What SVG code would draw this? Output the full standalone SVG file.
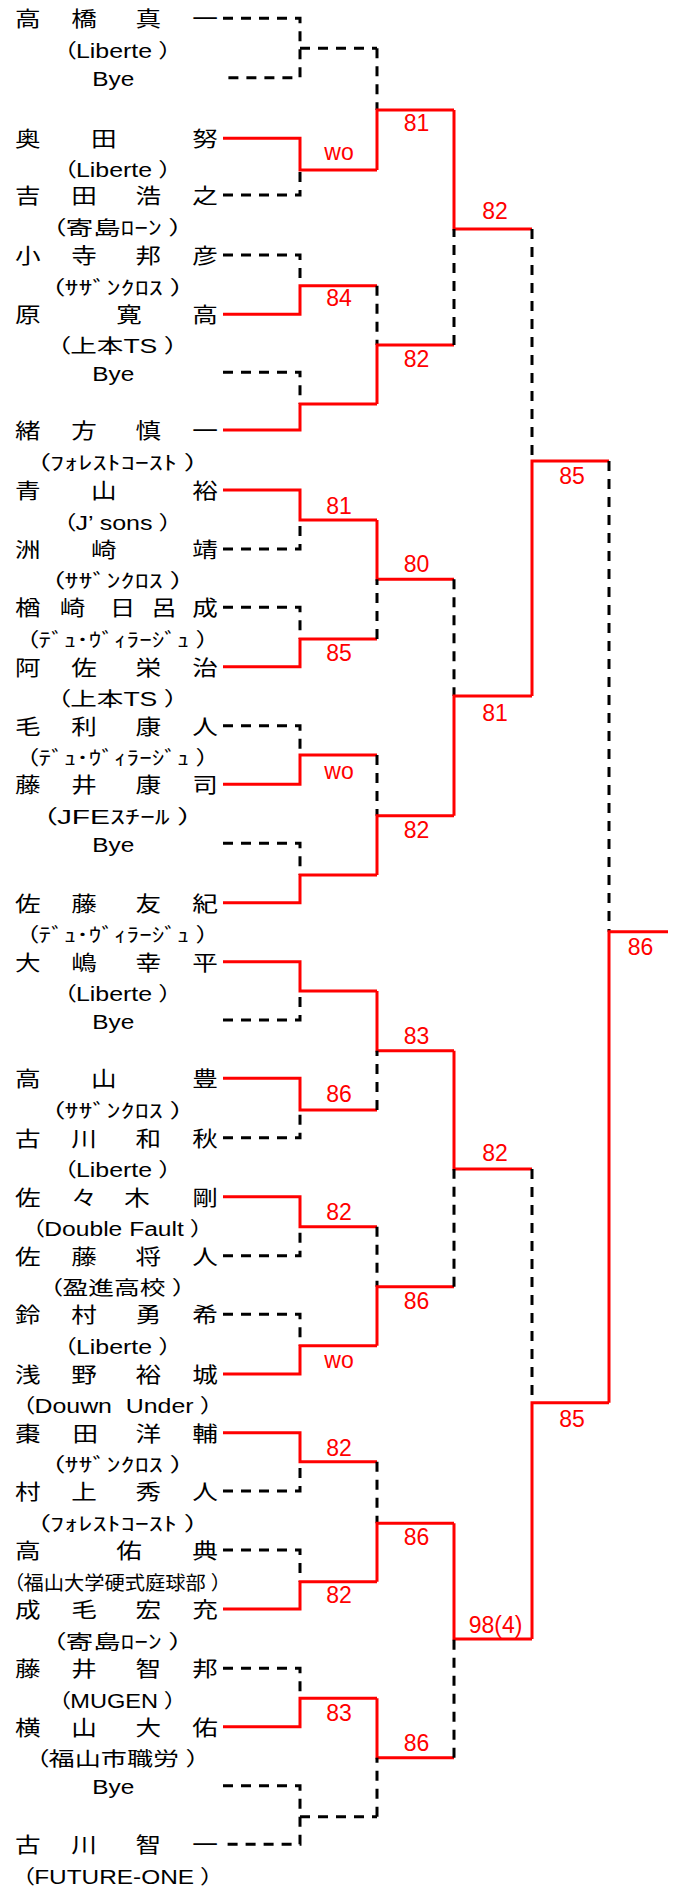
<svg xmlns="http://www.w3.org/2000/svg" width="680" height="1887" viewBox="0 0 680 1887">
<style>
.r{fill:none;stroke:#ff0000;stroke-width:3}
.d{fill:none;stroke:#000;stroke-width:3;stroke-dasharray:10 8}
.nm{font-family:"Noto Sans CJK JP","Noto Sans CJK SC",sans-serif;font-size:21px;fill:#000;text-anchor:middle}
.tm{font-family:"Liberation Sans","Noto Sans CJK JP",sans-serif;font-size:19.5px;fill:#000;text-anchor:middle;font-feature-settings:"palt" 1}
.by{font-family:"Liberation Sans",sans-serif;font-size:19.5px;fill:#000;text-anchor:middle}
.sc{font-family:"Liberation Sans",sans-serif;font-size:23px;fill:#ff0000;text-anchor:middle}
</style>
<rect width="680" height="1887" fill="#fff"/>

<g id="connectors">
<path class="d" d="M223 18.3H300V77.7H223"/>
<path class="d" d="M300 48.3H377"/>
<path class="d" d="M223 195H300V170"/>
<path class="r" d="M223 138.3H300V170H377"/>
<path class="d" d="M223 255H300V285.7"/>
<path class="r" d="M223 314.3H300V285.7H377"/>
<path class="d" d="M223 372.3H300V404"/>
<path class="r" d="M223 430H300V404H377"/>
<path class="d" d="M223 549H300V520"/>
<path class="r" d="M223 490H300V520H377"/>
<path class="d" d="M223 607.3H300V639"/>
<path class="r" d="M223 666.7H300V639H377"/>
<path class="d" d="M223 725.7H300V755"/>
<path class="r" d="M223 784.3H300V755H377"/>
<path class="d" d="M223 843.3H300V875"/>
<path class="r" d="M223 902.7H300V875H377"/>
<path class="d" d="M223 1020H300V991"/>
<path class="r" d="M223 961.7H300V991H377"/>
<path class="d" d="M223 1137.7H300V1110"/>
<path class="r" d="M223 1078.3H300V1110H377"/>
<path class="d" d="M223 1255.7H300V1226.7"/>
<path class="r" d="M223 1196.7H300V1226.7H377"/>
<path class="d" d="M223 1314.3H300V1345.7"/>
<path class="r" d="M223 1374H300V1345.7H377"/>
<path class="d" d="M223 1491H300V1461.7"/>
<path class="r" d="M223 1432.7H300V1461.7H377"/>
<path class="d" d="M223 1550H300V1581.7"/>
<path class="r" d="M223 1609H300V1581.7H377"/>
<path class="d" d="M223 1668.3H300V1698.3"/>
<path class="r" d="M223 1726.7H300V1698.3H377"/>
<path class="d" d="M223 1785.7H300V1844.3H223"/>
<path class="d" d="M300 1816.7H377"/>
<path class="d" d="M377 48.3V110"/>
<path class="r" d="M377 170V110H454"/>
<path class="d" d="M377 285.7V345"/>
<path class="r" d="M377 404V345H454"/>
<path class="r" d="M377 520V579.3H454"/>
<path class="d" d="M377 639V579.3"/>
<path class="d" d="M377 755V815.7"/>
<path class="r" d="M377 875V815.7H454"/>
<path class="r" d="M377 991V1050.7H454"/>
<path class="d" d="M377 1110V1050.7"/>
<path class="d" d="M377 1226.7V1286.7"/>
<path class="r" d="M377 1345.7V1286.7H454"/>
<path class="d" d="M377 1461.7V1523.3"/>
<path class="r" d="M377 1581.7V1523.3H454"/>
<path class="r" d="M377 1698.3V1757.7H454"/>
<path class="d" d="M377 1816.7V1757.7"/>
<path class="r" d="M454 110V229H532"/>
<path class="d" d="M454 345V229"/>
<path class="d" d="M454 579.3V696"/>
<path class="r" d="M454 815.7V696H532"/>
<path class="r" d="M454 1050.7V1169H532"/>
<path class="d" d="M454 1286.7V1169"/>
<path class="r" d="M454 1523.3V1639H532"/>
<path class="d" d="M454 1757.7V1639"/>
<path class="d" d="M532 229V461"/>
<path class="r" d="M532 696V461H609"/>
<path class="d" d="M532 1169V1402.7"/>
<path class="r" d="M532 1639V1402.7H609"/>
<path class="d" d="M609 461V931.7"/>
<path class="r" d="M609 1402.7V931.7H668"/>
</g>

<g id="scores">
<text class="sc" x="339" y="160">wo</text>
<text class="sc" x="339" y="306.2">84</text>
<text class="sc" x="339" y="514.2">81</text>
<text class="sc" x="339" y="660.9">85</text>
<text class="sc" x="339" y="779">wo</text>
<text class="sc" x="339" y="1102.2">86</text>
<text class="sc" x="339" y="1219.9">82</text>
<text class="sc" x="339" y="1367.7">wo</text>
<text class="sc" x="339" y="1456.2">82</text>
<text class="sc" x="339" y="1603.2">82</text>
<text class="sc" x="339" y="1721.2">83</text>
<text class="sc" x="416.5" y="131.2">81</text>
<text class="sc" x="416.5" y="366.5">82</text>
<text class="sc" x="416.5" y="571.5">80</text>
<text class="sc" x="416.5" y="837.5">82</text>
<text class="sc" x="416.5" y="1044.2">83</text>
<text class="sc" x="416.5" y="1308.9">86</text>
<text class="sc" x="416.5" y="1544.9">86</text>
<text class="sc" x="416.5" y="1750.5">86</text>
<text class="sc" x="495" y="218.9">82</text>
<text class="sc" x="495" y="720.5">81</text>
<text class="sc" x="495" y="1160.9">82</text>
<text class="sc" x="495.5" y="1633.2">98(4)</text>
<text class="sc" x="572" y="484">85</text>
<text class="sc" x="572" y="1426.5">85</text>
<text class="sc" x="640.5" y="955">86</text>
</g>

<g id="p01"><text class="nm" transform="scale(1.22,1)" y="26.3"><tspan x="22.8">高</tspan><tspan x="69">橋</tspan><tspan x="121.6">真</tspan><tspan x="168">一</tspan></text><text class="tm" x="117.5" y="58" textLength="108" lengthAdjust="spacingAndGlyphs">（Liberte ）</text></g>
<g id="p02"><text class="by" x="113.3" y="86.2" textLength="42" lengthAdjust="spacingAndGlyphs">Bye</text></g>
<g id="p03"><text class="nm" transform="scale(1.22,1)" y="146.3"><tspan x="22.8">奥</tspan><tspan x="85.2">田</tspan><tspan x="168">努</tspan></text><text class="tm" x="117.5" y="176.7" textLength="108" lengthAdjust="spacingAndGlyphs">（Liberte ）</text></g>
<g id="p04"><text class="nm" transform="scale(1.22,1)" y="203"><tspan x="22.8">吉</tspan><tspan x="69">田</tspan><tspan x="121.6">浩</tspan><tspan x="168">之</tspan></text><text class="tm" x="117.5" y="235" textLength="131" lengthAdjust="spacingAndGlyphs">（寄島ﾛｰﾝ ）</text></g>
<g id="p05"><text class="nm" transform="scale(1.22,1)" y="263"><tspan x="22.8">小</tspan><tspan x="69">寺</tspan><tspan x="121.6">邦</tspan><tspan x="168">彦</tspan></text><text class="tm" x="117.5" y="294.7" textLength="134" lengthAdjust="spacingAndGlyphs">（ｻｻﾞﾝｸﾛｽ ）</text></g>
<g id="p06"><text class="nm" transform="scale(1.22,1)" y="322.3"><tspan x="22.8">原</tspan><tspan x="105.7">寛</tspan><tspan x="168">高</tspan></text><text class="tm" x="117.5" y="353.3" textLength="121" lengthAdjust="spacingAndGlyphs">（上本TS ）</text></g>
<g id="p07"><text class="by" x="113.3" y="380.8" textLength="42" lengthAdjust="spacingAndGlyphs">Bye</text></g>
<g id="p08"><text class="nm" transform="scale(1.22,1)" y="438"><tspan x="22.8">緒</tspan><tspan x="69">方</tspan><tspan x="121.6">慎</tspan><tspan x="168">一</tspan></text><text class="tm" x="117.5" y="470" textLength="163" lengthAdjust="spacingAndGlyphs">（ﾌｫﾚｽﾄｺｰｽﾄ ）</text></g>
<g id="p09"><text class="nm" transform="scale(1.22,1)" y="498"><tspan x="22.8">青</tspan><tspan x="85.2">山</tspan><tspan x="168">裕</tspan></text><text class="tm" x="117.5" y="529.5" textLength="109" lengthAdjust="spacingAndGlyphs">（J’ sons ）</text></g>
<g id="p10"><text class="nm" transform="scale(1.22,1)" y="557"><tspan x="22.8">洲</tspan><tspan x="85.2">崎</tspan><tspan x="168">靖</tspan></text><text class="tm" x="117.5" y="588.2" textLength="134" lengthAdjust="spacingAndGlyphs">（ｻｻﾞﾝｸﾛｽ ）</text></g>
<g id="p11"><text class="nm" transform="scale(1.22,1)" y="615.3"><tspan x="22.8">楢</tspan><tspan x="59.4">崎</tspan><tspan x="100.4">日</tspan><tspan x="134.4">呂</tspan><tspan x="168">成</tspan></text><text class="tm" x="117.5" y="647" textLength="183" lengthAdjust="spacingAndGlyphs">（ﾃﾞｭ･ｳﾞｨﾗｰｼﾞｭ ）</text></g>
<g id="p12"><text class="nm" transform="scale(1.22,1)" y="674.7"><tspan x="22.8">阿</tspan><tspan x="69">佐</tspan><tspan x="121.6">栄</tspan><tspan x="168">治</tspan></text><text class="tm" x="117.5" y="706.2" textLength="121" lengthAdjust="spacingAndGlyphs">（上本TS ）</text></g>
<g id="p13"><text class="nm" transform="scale(1.22,1)" y="733.7"><tspan x="22.8">毛</tspan><tspan x="69">利</tspan><tspan x="121.6">康</tspan><tspan x="168">人</tspan></text><text class="tm" x="117.5" y="765" textLength="183" lengthAdjust="spacingAndGlyphs">（ﾃﾞｭ･ｳﾞｨﾗｰｼﾞｭ ）</text></g>
<g id="p14"><text class="nm" transform="scale(1.22,1)" y="792.3"><tspan x="22.8">藤</tspan><tspan x="69">井</tspan><tspan x="121.6">康</tspan><tspan x="168">司</tspan></text><text class="tm" x="117.5" y="823.8" textLength="151" lengthAdjust="spacingAndGlyphs">（JFEｽﾁｰﾙ ）</text></g>
<g id="p15"><text class="by" x="113.3" y="851.8" textLength="42" lengthAdjust="spacingAndGlyphs">Bye</text></g>
<g id="p16"><text class="nm" transform="scale(1.22,1)" y="910.7"><tspan x="22.8">佐</tspan><tspan x="69">藤</tspan><tspan x="121.6">友</tspan><tspan x="168">紀</tspan></text><text class="tm" x="117.5" y="942.2" textLength="183" lengthAdjust="spacingAndGlyphs">（ﾃﾞｭ･ｳﾞｨﾗｰｼﾞｭ ）</text></g>
<g id="p17"><text class="nm" transform="scale(1.22,1)" y="969.7"><tspan x="22.8">大</tspan><tspan x="69">嶋</tspan><tspan x="121.6">幸</tspan><tspan x="168">平</tspan></text><text class="tm" x="117.5" y="1000.9" textLength="108" lengthAdjust="spacingAndGlyphs">（Liberte ）</text></g>
<g id="p18"><text class="by" x="113.3" y="1028.5" textLength="42" lengthAdjust="spacingAndGlyphs">Bye</text></g>
<g id="p19"><text class="nm" transform="scale(1.22,1)" y="1086.3"><tspan x="22.8">高</tspan><tspan x="85.2">山</tspan><tspan x="168">豊</tspan></text><text class="tm" x="117.5" y="1118" textLength="134" lengthAdjust="spacingAndGlyphs">（ｻｻﾞﾝｸﾛｽ ）</text></g>
<g id="p20"><text class="nm" transform="scale(1.22,1)" y="1145.7"><tspan x="22.8">古</tspan><tspan x="69">川</tspan><tspan x="121.6">和</tspan><tspan x="168">秋</tspan></text><text class="tm" x="117.5" y="1177.2" textLength="108" lengthAdjust="spacingAndGlyphs">（Liberte ）</text></g>
<g id="p21"><text class="nm" transform="scale(1.22,1)" y="1204.7"><tspan x="22.8">佐</tspan><tspan x="69">々</tspan><tspan x="112.3">木</tspan><tspan x="168">剛</tspan></text><text class="tm" x="117.5" y="1236.2" textLength="171" lengthAdjust="spacingAndGlyphs">（Double Fault ）</text></g>
<g id="p22"><text class="nm" transform="scale(1.22,1)" y="1263.7"><tspan x="22.8">佐</tspan><tspan x="69">藤</tspan><tspan x="121.6">将</tspan><tspan x="168">人</tspan></text><text class="tm" x="117.5" y="1295" textLength="136" lengthAdjust="spacingAndGlyphs">（盈進高校 ）</text></g>
<g id="p23"><text class="nm" transform="scale(1.22,1)" y="1322.3"><tspan x="22.8">鈴</tspan><tspan x="69">村</tspan><tspan x="121.6">勇</tspan><tspan x="168">希</tspan></text><text class="tm" x="117.5" y="1354.2" textLength="108" lengthAdjust="spacingAndGlyphs">（Liberte ）</text></g>
<g id="p24"><text class="nm" transform="scale(1.22,1)" y="1382"><tspan x="22.8">浅</tspan><tspan x="69">野</tspan><tspan x="121.6">裕</tspan><tspan x="168">城</tspan></text><text class="tm" x="117.5" y="1413.4" textLength="191" lengthAdjust="spacingAndGlyphs" xml:space="preserve">（Douwn  Under ）</text></g>
<g id="p25"><text class="nm" transform="scale(1.22,1)" y="1440.7"><tspan x="22.8">棗</tspan><tspan x="70">田</tspan><tspan x="121.6">洋</tspan><tspan x="168">輔</tspan></text><text class="tm" x="117.5" y="1471.9" textLength="134" lengthAdjust="spacingAndGlyphs">（ｻｻﾞﾝｸﾛｽ ）</text></g>
<g id="p26"><text class="nm" transform="scale(1.22,1)" y="1499"><tspan x="22.8">村</tspan><tspan x="69">上</tspan><tspan x="121.6">秀</tspan><tspan x="168">人</tspan></text><text class="tm" x="117.5" y="1530.5" textLength="163" lengthAdjust="spacingAndGlyphs">（ﾌｫﾚｽﾄｺｰｽﾄ ）</text></g>
<g id="p27"><text class="nm" transform="scale(1.22,1)" y="1558"><tspan x="22.8">高</tspan><tspan x="105.7">佑</tspan><tspan x="168">典</tspan></text><text class="tm" x="117.5" y="1589.5" textLength="208" lengthAdjust="spacingAndGlyphs">（福山大学硬式庭球部 ）</text></g>
<g id="p28"><text class="nm" transform="scale(1.22,1)" y="1617"><tspan x="22.8">成</tspan><tspan x="69">毛</tspan><tspan x="121.6">宏</tspan><tspan x="168">充</tspan></text><text class="tm" x="117.5" y="1648.7" textLength="131" lengthAdjust="spacingAndGlyphs">（寄島ﾛｰﾝ ）</text></g>
<g id="p29"><text class="nm" transform="scale(1.22,1)" y="1676.3"><tspan x="22.8">藤</tspan><tspan x="69">井</tspan><tspan x="121.6">智</tspan><tspan x="168">邦</tspan></text><text class="tm" x="117.5" y="1707.5" textLength="118" lengthAdjust="spacingAndGlyphs">（MUGEN ）</text></g>
<g id="p30"><text class="nm" transform="scale(1.22,1)" y="1734.7"><tspan x="22.8">横</tspan><tspan x="69">山</tspan><tspan x="121.6">大</tspan><tspan x="168">佑</tspan></text><text class="tm" x="117.5" y="1766.2" textLength="164" lengthAdjust="spacingAndGlyphs">（福山市職労 ）</text></g>
<g id="p31"><text class="by" x="113.3" y="1794.2" textLength="42" lengthAdjust="spacingAndGlyphs">Bye</text></g>
<g id="p32"><text class="nm" transform="scale(1.22,1)" y="1852.3"><tspan x="22.8">古</tspan><tspan x="69">川</tspan><tspan x="121.6">智</tspan><tspan x="168">一</tspan></text><text class="tm" x="117.5" y="1883.6" textLength="191" lengthAdjust="spacingAndGlyphs">（FUTURE-ONE ）</text></g>
</svg>
